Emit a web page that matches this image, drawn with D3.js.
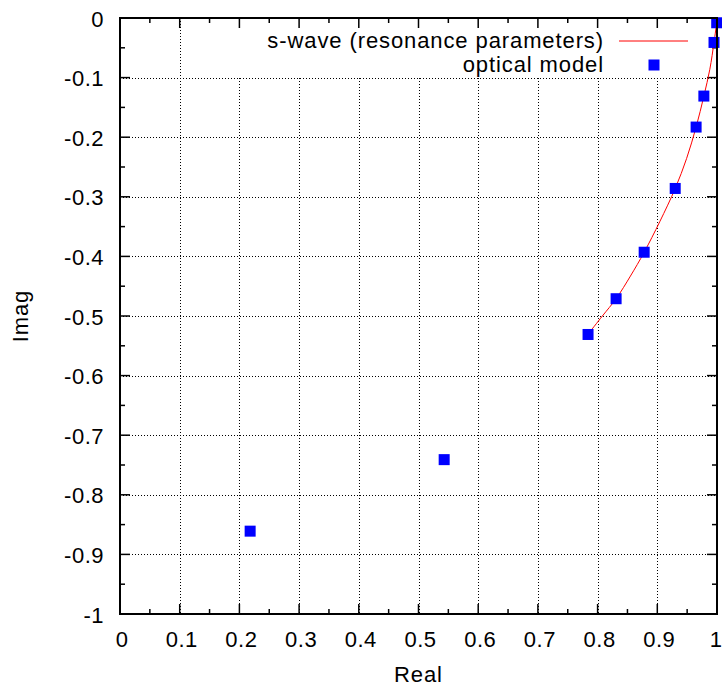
<!DOCTYPE html>
<html>
<head>
<meta charset="utf-8">
<script src="https://cdn.jsdelivr.net/npm/d3@7"></script>
<style>
  html, body { margin: 0; padding: 0; background: #fff; }
  svg { display: block; }
  text { font-family: "Liberation Sans", Arial, sans-serif; font-size: 22px; fill: #000; }
  .tick-label { letter-spacing: 0.5px; }
  .key-label, .axis-title { letter-spacing: 0.9px; }
</style>
</head>
<body>
<svg id="chart" width="722" height="686"></svg>
<script>
// Optical-model S-matrix values (real, imaginary)
const opticalRe = [0.218, 0.543, 0.784, 0.831, 0.878, 0.930, 0.965, 0.978, 0.995, 0.9995];
const opticalIm = [-0.861, -0.741, -0.531, -0.471, -0.393, -0.286, -0.183, -0.131, -0.041, -0.008];

// s-wave curve from resonance parameters
const swaveRe = [0.786, 0.808, 0.831, 0.855, 0.878, 0.904, 0.930, 0.949, 0.965, 0.978, 0.988, 0.995, 0.9995];
const swaveIm = [-0.528, -0.500, -0.471, -0.433, -0.393, -0.342, -0.286, -0.236, -0.183, -0.131, -0.086, -0.041, -0.008];

// tick values
const xTicks = [0, 0.1, 0.2, 0.3, 0.4, 0.5, 0.6, 0.7, 0.8, 0.9, 1];
const yTicks = [0, -0.1, -0.2, -0.3, -0.4, -0.5, -0.6, -0.7, -0.8, -0.9, -1];
const xMinor = [0.05, 0.15, 0.25, 0.35, 0.45, 0.55, 0.65, 0.75, 0.85, 0.95];
const yMinor = [-0.05, -0.15, -0.25, -0.35, -0.45, -0.55, -0.65, -0.75, -0.85, -0.95];

const legendLabels = ["s-wave (resonance parameters)", "optical model"];

const plotL = 120, plotR = 717, plotT = 18, plotB = 614;
const svg = d3.select("#chart");
const x = d3.scaleLinear().domain([0, 1]).range([plotL, plotR]);
const y = d3.scaleLinear().domain([-1, 0]).range([plotB, plotT]);

// grid
const grid = svg.append("g").attr("stroke", "#000").attr("stroke-width", 1)
  .attr("stroke-dasharray", "1,2").attr("shape-rendering", "crispEdges");
grid.selectAll(".gx").data(xTicks.slice(1, -1)).enter().append("line")
  .attr("x1", d => Math.round(x(d)) + 0.5).attr("x2", d => Math.round(x(d)) + 0.5)
  .attr("y1", plotT).attr("y2", plotB);
grid.selectAll(".gy").data(yTicks.slice(1, -1)).enter().append("line")
  .attr("y1", d => Math.round(y(d)) + 0.5).attr("y2", d => Math.round(y(d)) + 0.5)
  .attr("x1", plotL).attr("x2", plotR);

// opaque key area
svg.append("rect").attr("x", 205).attr("y", plotT).attr("width", plotR - 205).attr("height", 58).attr("fill", "#fff");

// ticks on all four sides, pointing inward
const tk = svg.append("g").attr("stroke", "#000").attr("stroke-width", 1.5);
function ticksX(vals, len) {
  vals.forEach(v => {
    tk.append("line").attr("x1", x(v)).attr("x2", x(v)).attr("y1", plotB).attr("y2", plotB - len);
    tk.append("line").attr("x1", x(v)).attr("x2", x(v)).attr("y1", plotT).attr("y2", plotT + len);
  });
}
function ticksY(vals, len) {
  vals.forEach(v => {
    tk.append("line").attr("y1", y(v)).attr("y2", y(v)).attr("x1", plotL).attr("x2", plotL + len);
    tk.append("line").attr("y1", y(v)).attr("y2", y(v)).attr("x1", plotR).attr("x2", plotR - len);
  });
}
ticksX(xTicks, 10); ticksX(xMinor, 5);
ticksY(yTicks, 10); ticksY(yMinor, 5);

// tick labels, plain hyphen for the minus sign
const fmt = d => (d === 0 || d === 1 || d === -1) ? String(d) : d.toFixed(1);
svg.append("g").selectAll("text").data(xTicks).enter().append("text").attr("class", "tick-label")
  .attr("x", d => Math.min(x(d) + 2, 716)).attr("y", 647).attr("text-anchor", "middle").text(fmt);
svg.append("g").selectAll("text").data(yTicks).enter().append("text").attr("class", "tick-label")
  .attr("x", 104).attr("y", d => y(d) + 8.5).attr("text-anchor", "end").text(fmt);

// axis titles
svg.append("text").attr("class", "axis-title").attr("x", (plotL + plotR) / 2).attr("y", 682)
  .attr("text-anchor", "middle").text("Real");
svg.append("text").attr("class", "axis-title").attr("transform", `translate(28,${(plotT + plotB) / 2}) rotate(-90)`)
  .attr("text-anchor", "middle").text("Imag");

// legend
svg.append("text").attr("class", "key-label").attr("x", 604).attr("y", 48).attr("text-anchor", "end").text(legendLabels[0]);
svg.append("text").attr("class", "key-label").attr("x", 604).attr("y", 72).attr("text-anchor", "end").text(legendLabels[1]);
svg.append("line").attr("x1", 619).attr("x2", 688).attr("y1", 41).attr("y2", 41)
  .attr("stroke", "#ff0000").attr("stroke-width", 1);
svg.append("rect").attr("x", 654 - 5.5).attr("y", 65 - 5.5).attr("width", 11).attr("height", 11).attr("fill", "#0000ff");

// s-wave curve
const curvePts = swaveRe.map((r, i) => [r, swaveIm[i]]);
svg.append("path").datum(curvePts)
  .attr("d", d3.line().x(d => x(d[0])).y(d => y(d[1])).curve(d3.curveCatmullRom))
  .attr("fill", "none").attr("stroke", "#ff0000").attr("stroke-width", 1);

// optical model points
const pts = opticalRe.map((r, i) => [r, opticalIm[i]]);
svg.append("g").selectAll("rect").data(pts).enter().append("rect")
  .attr("x", d => x(d[0]) - 5.5).attr("y", d => y(d[1]) - 5.5)
  .attr("width", 11).attr("height", 11).attr("fill", "#0000ff");

// border
svg.append("rect").attr("x", plotL).attr("y", plotT).attr("width", plotR - plotL).attr("height", plotB - plotT)
  .attr("fill", "none").attr("stroke", "#000").attr("stroke-width", 2);
</script>
</body>
</html>
